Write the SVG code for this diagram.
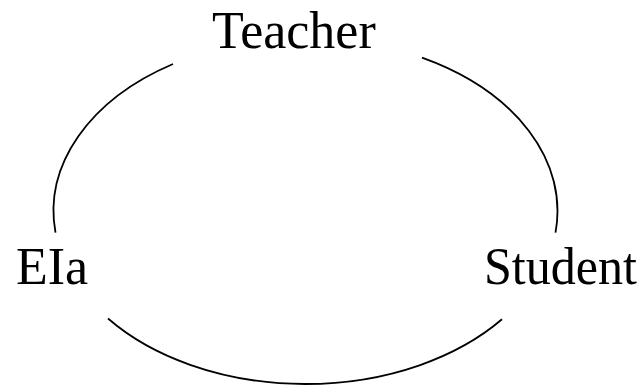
<svg xmlns="http://www.w3.org/2000/svg" width="643" height="386" viewBox="0 0 643 386">
<style>
.lbl{font-family:"Liberation Serif","Times New Roman",serif;font-size:52px;fill:#000}
.arc{fill:none;stroke:#000;stroke-width:1.8}
</style>
<rect width="643" height="386" fill="#fff"/>
<g id="connectors">
<path class="arc" d="M173,64 A252,173 0 0 0 55.5,232.7"/>
<path class="arc" d="M422,57.6 A252,173 0 0 1 555.5,232.7"/>
<path class="arc" d="M108,318.5 A252,173 0 0 0 502,319.3"/>
</g>
<g id="teacher"><text class="lbl" x="212" y="48">Teacher</text></g>
<g id="eia"><text class="lbl" x="16" y="284">EIa</text></g>
<g id="student"><text class="lbl" x="484" y="284" textLength="153" lengthAdjust="spacingAndGlyphs">Student</text></g>
</svg>
